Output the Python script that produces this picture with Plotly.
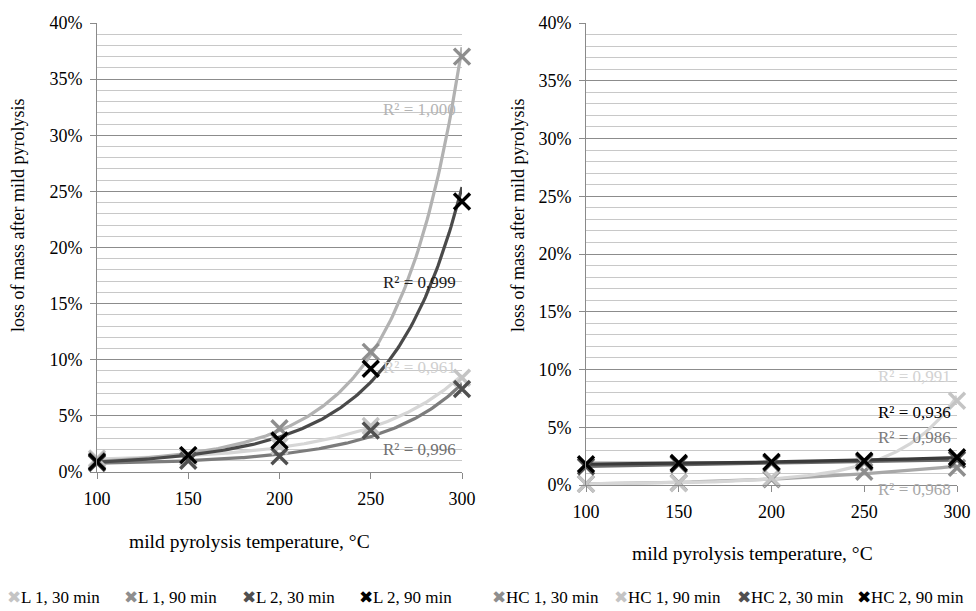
import numpy as np
import plotly.graph_objects as go

W, H = 976, 611

# ---------------- data ----------------
temps = [100, 150, 200, 250, 300]

left_names = ["L 1, 30 min", "L 1, 90 min", "L 2, 30 min", "L 2, 90 min"]
L1_30 = [1.2, 1.3, 2.3, 4.1, 8.4]
L1_90 = [1.0, 1.5, 3.9, 10.7, 37.0]
L2_30 = [0.8, 1.0, 1.4, 3.7, 7.4]
L2_90 = [0.9, 1.5, 2.8, 9.2, 24.1]
left_r2 = ["R² = 0,961", "R² = 1,000", "R² = 0,996", "R² = 0,999"]
left_r2_y = [9.3, 32.3, 2.0, 16.9]

right_names = ["HC 1, 30 min", "HC 1, 90 min", "HC 2, 30 min", "HC 2, 90 min"]
HC1_30 = [0.1, 0.2, 0.5, 1.15, 1.5]
HC1_90 = [0.1, 0.15, 0.6, 1.9, 7.3]
HC2_30 = [1.6, 1.8, 1.9, 2.0, 2.2]
HC2_90 = [1.8, 1.9, 2.0, 2.1, 2.4]
right_r2 = ["R² = 0,968", "R² = 0,991", "R² = 0,986", "R² = 0,936"]
right_r2_y = [0.0, 9.4, 4.1, 6.3]

y_ticks = [0, 5, 10, 15, 20, 25, 30, 35, 40]
y_ticktext = ["0%", "5%", "10%", "15%", "20%", "25%", "30%", "35%", "40%"]
x_ticks = [100, 150, 200, 250, 300]

# ---------------- styles ----------------
FONT = "'Liberation Serif', 'Times New Roman', serif"
marker_colors = ["#c4c4c4", "#8e8e8e", "#505050", "#000000"]
right_marker_colors = ["#8e8e8e", "#c4c4c4", "#505050", "#000000"]
trend_colors = ["#d6d6d6", "#b2b2b2", "#7c7c7c", "#4a4a4a"]
right_trend_colors = ["#a8a8a8", "#d6d6d6", "#6a6a6a", "#3a3a3a"]
label_colors = ["#cfcfcf", "#b4b4b4", "#707070", "#1a1a1a"]
right_label_colors = ["#a8a8a8", "#d2d2d2", "#7a7a7a", "#000000"]
right_label_shift = [-4, 0, 0, 0]


def px(x):
    return x / W


def py(y):
    return 1 - y / H


fig = go.Figure()

xs = np.linspace(100, 300, 200)


def add_group(series, mcols, tcols, xa, ya):
    # smooth trend curves (log-quadratic fit of each series)
    for vals, tc in zip(series, tcols):
        coef = np.polyfit(temps, np.log(vals), 2)
        fig.add_trace(go.Scatter(x=xs, y=np.exp(np.polyval(coef, xs)), mode="lines",
                                 line=dict(color=tc, width=3.2), xaxis=xa, yaxis=ya,
                                 showlegend=False, hoverinfo="skip"))
    for vals, mc in zip(series, mcols):
        fig.add_trace(go.Scatter(x=temps, y=vals, mode="markers",
                                 marker=dict(symbol="x-thin", size=16,
                                             line=dict(color=mc, width=3.4)),
                                 xaxis=xa, yaxis=ya, showlegend=False, cliponaxis=False))


add_group([L1_30, L1_90, L2_30, L2_90], marker_colors, trend_colors, "x", "y")
add_group([HC1_30, HC1_90, HC2_30, HC2_90], right_marker_colors, right_trend_colors, "x2", "y2")

axis_common = dict(showline=True, linecolor="#8a8a8a", linewidth=1,
                   tickfont=dict(family=FONT, size=18, color="#000"),
                   ticks="outside", tickcolor="#8a8a8a", ticklen=6, zeroline=False)

yaxis_common = dict(axis_common, range=[0, 40], tickmode="array", tickvals=y_ticks,
                    ticktext=y_ticktext,
                    showgrid=True, gridcolor="#8c8c8c", gridwidth=1,
                    minor=dict(dtick=1, tick0=0, showgrid=True, gridcolor="#c8c8c8", ticks=""),
                    ticklabelstandoff=4, automargin=False)
xaxis_common = dict(axis_common, range=[100, 300], tickmode="array", tickvals=x_ticks,
                    showgrid=False, ticklabelstandoff=4, automargin=False)

fig.update_layout(
    width=W, height=H, margin=dict(l=0, r=0, t=0, b=0),
    paper_bgcolor="white", plot_bgcolor="white",
    font=dict(family=FONT, size=17, color="#000"),
    showlegend=False,
    xaxis=dict(xaxis_common, domain=[px(97), px(462)], anchor="y"),
    yaxis=dict(yaxis_common, domain=[py(472), py(23)], anchor="x"),
    xaxis2=dict(xaxis_common, domain=[px(586), px(957)], anchor="y2"),
    yaxis2=dict(yaxis_common, domain=[py(485), py(23)], anchor="x2"),
)

ann = []
for txt, yv, c in zip(left_r2, left_r2_y, label_colors):
    ann.append(dict(x=300, y=yv, xref="x", yref="y", text=txt, showarrow=False,
                    xanchor="right", xshift=-4, font=dict(family=FONT, size=17, color=c)))
for txt, yv, c, ys in zip(right_r2, right_r2_y, right_label_colors, right_label_shift):
    ann.append(dict(x=300, y=yv, xref="x2", yref="y2", text=txt, showarrow=False,
                    xanchor="right", xshift=-4, yshift=ys,
                    font=dict(family=FONT, size=17, color=c)))

# axis titles
ytitle = "loss of mass after mild pyrolysis"
xtitle = "mild pyrolysis temperature, °C"
for xp in (18, 518):
    ann.append(dict(x=px(xp), y=py(216), xref="paper", yref="paper", text=ytitle,
                    textangle=-90, xanchor="center", yanchor="middle",
                    showarrow=False, font=dict(family=FONT, size=18)))
for xp, yp in ((250, 541), (752, 553)):
    ann.append(dict(x=px(xp), y=py(yp), xref="paper", yref="paper", text=xtitle,
                    xanchor="center", yanchor="middle",
                    showarrow=False, font=dict(family=FONT, size=19.5)))

# legend rows
legend_x = [5, 122, 240, 357, 490, 612, 735, 855]
legend_names = left_names + right_names
legend_cols = marker_colors + right_marker_colors
for name, c, lx in zip(legend_names, legend_cols, legend_x):
    ann.append(dict(x=px(lx), y=py(597), xref="paper", yref="paper",
                    text=f"<span style='color:{c}'>✖</span>{name}",
                    showarrow=False, xanchor="left", yanchor="middle",
                    font=dict(family=FONT, size=17)))

fig.update_layout(annotations=ann)
fig.write_html("out.html")
